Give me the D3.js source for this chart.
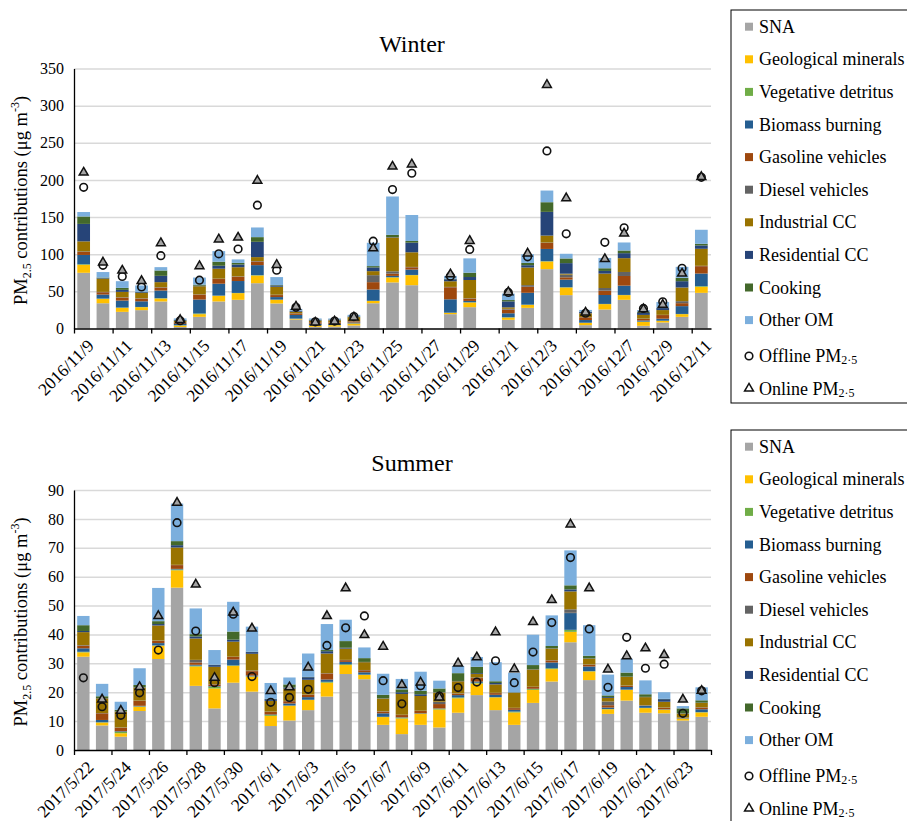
<!DOCTYPE html>
<html>
<head>
<meta charset="utf-8">
<script src="https://cdn.jsdelivr.net/npm/d3@7"></script>
<style>
  body { margin: 0; background: #fff; }
  text { font-family: "Liberation Serif", "Times New Roman", serif; fill: #000; }
</style>
</head>
<body>
<svg id="chart" width="907" height="821"></svg>
<script>
// Source categories (stacking order, bottom to top) and their fills
const sourceNames = ["SNA", "Geological minerals", "Vegetative detritus", "Biomass burning",
  "Gasoline vehicles", "Diesel vehicles", "Industrial CC", "Residential CC", "Cooking", "Other OM"];
const sourceColors = ["#A5A5A5", "#FFC000", "#70AD47", "#255E91", "#9E480E",
  "#636363", "#997300", "#264478", "#43682B", "#7CAFDD"];

// ---- Winter campaign ----
const winterDates = ["2016/11/9","2016/11/10","2016/11/11","2016/11/12","2016/11/13","2016/11/14",
  "2016/11/15","2016/11/16","2016/11/17","2016/11/18","2016/11/19","2016/11/20","2016/11/21",
  "2016/11/22","2016/11/23","2016/11/24","2016/11/25","2016/11/26","2016/11/27","2016/11/28",
  "2016/11/29","2016/11/30","2016/12/1","2016/12/2","2016/12/3","2016/12/4","2016/12/5",
  "2016/12/6","2016/12/7","2016/12/8","2016/12/9","2016/12/10","2016/12/11"];
const winterTicks = [0, 50, 100, 150, 200, 250, 300, 350];
const winterSNA = [75,34,22.4,24.7,36.4,2,15.7,36.4,38.6,61,33.7,12.1,2.2,2.5,4,34,62,58.3,null,19.3,28.7,null,11.7,27.8,79.9,44.9,4.5,25.6,38.6,3.6,8.1,15.7,48];
const winterGeo = [10.7,5.8,5.4,4,4,2,3.6,7.6,9,10.3,4.9,1,2,2,2.7,3.1,6.7,13.5,null,1.8,6.3,null,3.1,4,10.3,10.3,3.1,7.2,6.3,5.4,2.2,3.6,8.1];
const winterVeg = [0.8,0.5,0.4,0.3,0.4,0.3,0.9,0.3,0.3,0.5,0.3,0.2,0.2,0.2,0.2,0.2,0.3,0.3,null,0.2,0.3,null,0.3,0.3,0.4,0.3,0.2,0.3,0.3,0.3,0.2,0.3,0.9];
const winterBiomass = [12.5,5.4,9.4,7.6,10.3,2,18.8,16,16,13.5,3.4,5,2,1.5,1.2,15.2,1.8,7.2,null,18,1.8,null,5.4,16,16.5,10.3,3.6,12,12.5,1.5,2.7,10.5,17];
const winterGasoline = [4,3.1,4,3.6,4,1.5,6.7,6.3,5.8,4.9,2.7,2,2,2,1.5,9.9,3.1,3.1,null,16.2,3.1,null,5,8.1,8.1,3.1,3.6,5.8,13,2,4.9,4,9.9];
const winterDiesel = [0.8,0.5,0.5,0.5,0.5,0.3,0.3,0.5,0.5,0.6,0.5,0.3,0.3,0.3,0.3,9.4,3.1,0.5,null,0.5,0.5,null,1,2.2,0.5,3.6,0.3,3.6,5.4,0.5,0.3,2.7,0.5];
const winterIndustrial = [13.5,17.5,7.2,7.2,6.8,2,10.9,13.4,12.3,5.3,10.7,2,2,2.5,5.4,5.4,45.5,19.7,null,7.6,24.6,null,2,23.7,9.4,1.3,5.2,19.4,18.6,5,6.4,18.4,22.9];
const winterResidential = [23.5,0.8,2.7,1,8.5,1,0.8,4,3.6,20.6,1.8,1,1,1,0.8,5,0.5,13,null,2.7,4,null,8,3.1,31.9,14.2,1.8,3.6,6.7,3,2.7,8.5,4.5];
const winterCooking = [10,1,2.7,0.5,7.2,0.5,1.3,5.4,2.2,6.3,0.6,0.3,0.3,0.3,0.3,1.8,3.1,2.2,null,0.5,5.8,null,1.8,3.1,13,6.3,0.3,3.6,3.6,1.5,0.5,4.5,2.2];
const winterOtherOM = [6,7.4,9,8.5,4.5,2,9.6,14.3,4.7,13,10.6,2.5,1.5,1.2,2,31.4,51.6,35,null,4,19.3,null,8.7,11.7,15.7,6.3,2.4,13.9,10.8,2,7.6,14.8,18.9];
const winterOffline = [190,85,70,56,98,10.5,65,100.5,107,166,78.5,28.5,9,10,16,117.6,187,209,null,70.5,106.5,null,48.5,96.5,239,127.5,20.5,116,135.5,27,36,81,203.5];
const winterOnline = [210,89,78,64,115,11.5,84,120,122.5,199,85.7,29.5,8,9.5,15,108,218,221,null,73,118,null,49,101,328,175.5,21.5,93.5,128,26,32,74,204];

// ---- Summer campaign ----
const summerDates = ["2017/5/22","2017/5/23","2017/5/24","2017/5/25","2017/5/26","2017/5/27",
  "2017/5/28","2017/5/29","2017/5/30","2017/5/31","2017/6/1","2017/6/2","2017/6/3","2017/6/4",
  "2017/6/5","2017/6/6","2017/6/7","2017/6/8","2017/6/9","2017/6/10","2017/6/11","2017/6/12",
  "2017/6/13","2017/6/14","2017/6/15","2017/6/16","2017/6/17","2017/6/18","2017/6/19","2017/6/20",
  "2017/6/21","2017/6/22","2017/6/23","2017/6/24"];
const summerTicks = [0, 10, 20, 30, 40, 50, 60, 70, 80, 90];
const summerSNA = [32.3,8.5,4.6,13.5,31.5,56.2,22.2,14.4,23.3,20.2,8.3,10.2,13.8,18.5,26.3,24.5,8.7,5.5,8.7,7.8,12.9,19,13.8,8.7,16.3,23.7,37.3,24.2,12.5,17.1,12.9,12.7,10.2,11.5];
const summerGeo = [1.5,1,1.2,1.5,4.6,6,6.7,6.9,5.8,5.2,3.5,5.1,3.5,4.8,3.1,1.5,2.7,5.4,3.8,6.2,5,4,4.4,4.3,4.5,4.3,3.6,3,1.6,3.7,1.6,1.2,0.6,1.5];
const summerVeg = [0.2,0.1,0.5,0.1,0.1,0.3,0.3,0.6,0.2,0.1,0.3,0.1,0.1,0.3,0.3,0.1,0.1,0.3,0.1,0.3,0.3,0.3,0.1,0.3,0.3,0.3,0.7,0.1,0.1,0.1,0.1,0.1,0.1,0.1];
const summerBiomass = [1.2,0.8,0.2,0.2,0.8,0.2,0.3,0.2,2,0.3,0.2,0.7,0.9,0.8,0.8,0.8,1.2,0.1,0.1,0.1,0.8,0.4,0.8,0.6,0.1,2,5.8,1.6,0.5,0.9,0.7,0.1,0.1,1];
const summerGasoline = [0.9,2.3,1.2,1.7,0.8,1.3,0.8,0.6,0.9,1.5,0.9,0.8,0.8,2.1,0.6,0.7,0.6,0.8,0.8,1.5,0.5,1.2,0.6,0.6,0.6,0.7,0.1,0.6,0.8,0.4,0.1,0.5,0.1,0.6];
const summerDiesel = [0.2,0.1,0.1,0.1,0.1,0.1,0.9,0.1,0.1,0.2,0.1,0.1,0.1,0.1,0.1,0.1,0.1,0.1,0.1,0.8,0.1,0.2,0.1,0.1,0.1,0.1,1.2,0.1,1.3,0.1,0.1,0.1,0.1,0.1];
const summerIndustrial = [4.5,5.1,5.5,4.5,5.2,6,7.4,6,5.2,5.8,3.7,4.2,5.1,6.8,3.9,2.7,4.4,7.2,5.1,3.2,4.2,1.2,2.9,5.2,6,4,6.2,2,1.2,3,2.8,2,1.4,1.5];
const summerResidential = [0.4,0.1,0.1,0.1,0.5,0.8,0.7,0.6,0.7,0.6,0.6,0.4,0.9,0.8,0.3,0.1,0.1,0.6,0.6,0.1,0.1,0.3,0.5,0.1,0.1,0.1,0.7,0.1,0.3,0.1,0.1,0.9,0.1,0.1];
const summerCooking = [2,0.6,0.5,0.8,1,1.4,0.8,0.1,2.8,0.1,0.1,1.1,0.1,0.4,2.3,1.3,1.2,1,1.2,1.3,2.7,2.2,0.6,0.1,1.4,0.8,1.4,0.9,0.6,1.4,0.9,0.1,1.7,0.8];
const summerOtherOM = [3.2,4.3,2.8,5.8,11.5,13,8.9,5.1,10.3,8.7,5.5,2.4,8.1,9,7.4,3.7,7.3,3.6,6.6,2.7,2.5,3.4,6.6,6.7,10.5,10.6,12.1,10.6,7.2,4.8,4.8,2.3,0.8,4.5];
const summerOffline = [25,15,12,19.8,34.6,78.7,41.2,23.3,47,25.4,16.5,18.2,21,36.2,42.3,46.4,24,16,22.2,18.7,21.6,23.5,30.9,23.3,33.9,44.1,66.6,41.9,21.7,39,28.3,29.7,12.7,20.5];
const summerOnline = [null,17.5,13.6,21.8,46.4,85.6,57.3,25,47.6,42.1,20.4,21.7,28.6,46.4,56,39.8,35.8,22.5,23.4,18.2,30,32.1,40.8,28,44.3,51.9,78.1,56,27.9,32.5,35.2,32.9,17.5,20.5];

const svg = d3.select("#chart");
const plotLeft = 74, plotRight = 711;

const panels = [
  { title: "Winter", dates: winterDates, ticks: winterTicks, yMax: 350,
    layers: [winterSNA, winterGeo, winterVeg, winterBiomass, winterGasoline, winterDiesel,
             winterIndustrial, winterResidential, winterCooking, winterOtherOM],
    offline: winterOffline, online: winterOnline,
    top: 68.5, bottom: 328.5, titleY: 52, legendTop: 10, legendBottom: 403 },
  { title: "Summer", dates: summerDates, ticks: summerTicks, yMax: 90,
    layers: [summerSNA, summerGeo, summerVeg, summerBiomass, summerGasoline, summerDiesel,
             summerIndustrial, summerResidential, summerCooking, summerOtherOM],
    offline: summerOffline, online: summerOnline,
    top: 490, bottom: 750, titleY: 471, legendTop: 430, legendBottom: 840 }
];

function drawPanel(p) {
  const g = svg.append("g");
  const n = p.dates.length;
  const x = d3.scaleBand().domain(p.dates).range([plotLeft, plotRight])
    .paddingInner(0.34).paddingOuter(0.17);
  const y = d3.scaleLinear().domain([0, p.yMax]).range([p.bottom, p.top]);

  // horizontal gridlines
  g.append("g")
    .attr("transform", `translate(${plotLeft},0)`)
    .call(d3.axisLeft(y).tickValues(p.ticks.filter(t => t > 0))
      .tickSize(-(plotRight - plotLeft)).tickSizeOuter(0).tickFormat(""))
    .call(s => s.select(".domain").remove())
    .call(s => s.selectAll("line").attr("stroke", "#D9D9D9").attr("stroke-width", 1.5));

  // stacked source contributions
  const rows = p.dates.map((d, i) => {
    const r = { date: d, has: p.layers[0][i] != null };
    sourceNames.forEach((s, k) => { r[s] = p.layers[k][i] ?? 0; });
    return r;
  });
  const stacked = d3.stack().keys(sourceNames)(rows);
  g.append("g").selectAll("g").data(stacked).join("g")
    .attr("fill", (d, k) => sourceColors[k])
    .selectAll("rect").data(d => d.filter(v => v.data.has)).join("rect")
    .attr("x", v => x(v.data.date))
    .attr("width", x.bandwidth())
    .attr("y", v => y(v[1]))
    .attr("height", v => Math.max(0, y(v[0]) - y(v[1])));

  // y axis
  const ya = g.append("g").attr("transform", `translate(${plotLeft},0)`)
    .call(d3.axisLeft(y).tickValues(p.ticks).tickSize(0).tickSizeOuter(0).tickPadding(10));
  ya.select(".domain").attr("stroke", "#000").attr("stroke-width", 1.3);
  ya.selectAll("text").attr("font-size", 16).attr("fill", "#000");

  // x axis with tick marks on every second category boundary
  const xb = d3.scaleLinear().domain([0, n]).range([plotLeft, plotRight]);
  const xa = g.append("g").attr("transform", `translate(0,${p.bottom})`)
    .call(d3.axisBottom(xb).tickValues(d3.range(0, n + 1, 2)).tickSize(5).tickSizeOuter(0).tickFormat(""));
  xa.select(".domain").attr("stroke", "#000").attr("stroke-width", 1.3);
  xa.selectAll("line").attr("stroke", "#000").attr("stroke-width", 1.3);

  g.append("g").selectAll("text")
    .data(p.dates.filter((d, i) => i % 2 === 0)).join("text")
    .attr("transform", d => `translate(${x(d) + x.bandwidth() / 2 + 7},${p.bottom + 14}) rotate(-45)`)
    .attr("text-anchor", "end")
    .attr("dominant-baseline", "central")
    .attr("font-size", 17.5)
    .text(d => d);

  // measured PM2.5 markers
  const idx = d3.range(n);
  const cx = i => x(p.dates[i]) + x.bandwidth() / 2;
  g.append("g").selectAll("circle")
    .data(idx.filter(i => p.offline[i] != null)).join("circle")
    .attr("cx", cx).attr("cy", i => y(p.offline[i])).attr("r", 3.8)
    .attr("fill", "none").attr("stroke", "#111").attr("stroke-width", 1.6);
  const tri = d3.symbol(d3.symbolTriangle).size(34);
  g.append("g").selectAll("path")
    .data(idx.filter(i => p.online[i] != null)).join("path")
    .attr("d", tri)
    .attr("transform", i => `translate(${cx(i)},${y(p.online[i])})`)
    .attr("fill", "#A5A5A5").attr("stroke", "#111").attr("stroke-width", 1.5);

  // title
  g.append("text").attr("x", 412).attr("y", p.titleY)
    .attr("text-anchor", "middle").attr("font-size", 24).text(p.title);

  // y axis title
  const yl = g.append("text")
    .attr("transform", `translate(27,${(p.top + p.bottom) / 2 + 2}) rotate(-90)`)
    .attr("text-anchor", "middle").attr("font-size", 18.5);
  yl.append("tspan").text("PM");
  yl.append("tspan").attr("font-size", 12).attr("dy", 4).text("2.5");
  yl.append("tspan").attr("dy", -4).text(" contributions (μg m");
  yl.append("tspan").attr("font-size", 12).attr("dy", -8).text("-3");
  yl.append("tspan").attr("dy", 8).text(")");

  // legend
  const lg = g.append("g");
  lg.append("rect").attr("x", 731).attr("y", p.legendTop)
    .attr("width", 200).attr("height", p.legendBottom - p.legendTop)
    .attr("fill", "#fff").attr("stroke", "#000").attr("stroke-width", 1);
  const rowY = k => p.legendTop + 16.7 + k * 32.6;
  sourceNames.forEach((s, k) => {
    lg.append("rect").attr("x", 745).attr("y", rowY(k) - 4).attr("width", 8).attr("height", 8)
      .attr("fill", sourceColors[k]);
    lg.append("text").attr("x", 759).attr("y", rowY(k)).attr("dominant-baseline", "central")
      .attr("font-size", 18).text(s);
  });
  const offY = p.legendTop + 346, onY = p.legendTop + 378.5;
  lg.append("circle").attr("cx", 749).attr("cy", offY).attr("r", 3.8)
    .attr("fill", "none").attr("stroke", "#111").attr("stroke-width", 1.6);
  const t1 = lg.append("text").attr("x", 759).attr("y", offY).attr("dominant-baseline", "central").attr("font-size", 18);
  t1.append("tspan").text("Offline PM");
  t1.append("tspan").attr("font-size", 12).attr("dy", 4).text("2·5");
  lg.append("path").attr("d", tri).attr("transform", `translate(749,${onY})`)
    .attr("fill", "#fff").attr("stroke", "#111").attr("stroke-width", 1.5);
  const t2 = lg.append("text").attr("x", 759).attr("y", onY).attr("dominant-baseline", "central").attr("font-size", 18);
  t2.append("tspan").text("Online PM");
  t2.append("tspan").attr("font-size", 12).attr("dy", 4).text("2·5");
}

panels.forEach(drawPanel);
</script>
</body>
</html>
